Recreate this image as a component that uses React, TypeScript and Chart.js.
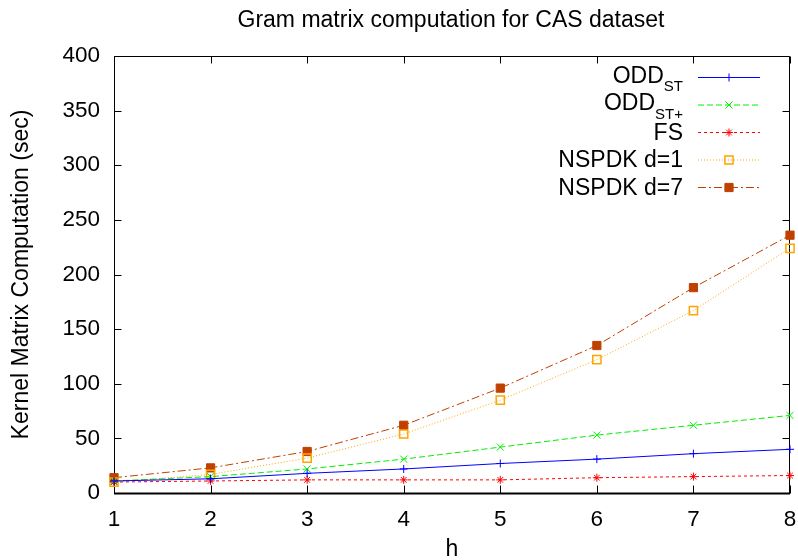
import React, { useEffect, useRef } from 'react';
import { Chart, registerables } from 'chart.js';

Chart.register(...registerables);

// ---- data ----
const hLabels = ['1', '2', '3', '4', '5', '6', '7', '8'];
const oddST = [11, 13, 18, 22, 27, 31, 36, 40];
const oddSTPlus = [11, 15, 22, 31, 42, 53, 62, 71];
const fsValues = [10, 11, 12, 12, 12, 14, 15, 16];
const nspdk1 = [10, 17, 32, 54, 85, 122, 167, 224];
const nspdk7 = [14, 23, 38, 62, 96, 135, 188, 236];
const yMin = 0;
const yMax = 400;
const yStep = 50;
const titleText = 'Gram matrix computation for CAS dataset';
const xTitle = 'h';
const yTitle = 'Kernel Matrix Computation (sec)';
const legendMain = ['ODD', 'ODD', 'FS', 'NSPDK d=1', 'NSPDK d=7'];
const legendSub = ['ST', 'ST+', '', '', ''];

const FONT = "'Liberation Sans', Arial, Helvetica, sans-serif";

function drawMarker(ctx: CanvasRenderingContext2D, style: string, x: number, y: number, r: number, stroke: string, fill: string, lw: number) {
  ctx.save();
  ctx.setLineDash([]);
  ctx.lineWidth = lw;
  ctx.strokeStyle = stroke;
  ctx.fillStyle = fill;
  ctx.beginPath();
  const d = r * Math.SQRT1_2;
  if (style === 'cross' || style === 'star') {
    ctx.moveTo(x - r, y); ctx.lineTo(x + r, y);
    ctx.moveTo(x, y - r); ctx.lineTo(x, y + r);
  }
  if (style === 'crossRot' || style === 'star') {
    ctx.moveTo(x - d, y - d); ctx.lineTo(x + d, y + d);
    ctx.moveTo(x - d, y + d); ctx.lineTo(x + d, y - d);
  }
  if (style === 'rect') {
    ctx.rect(x - d, y - d, 2 * d, 2 * d);
    ctx.fill();
  }
  ctx.stroke();
  ctx.restore();
}

const framePlugin = {
  id: 'gnuFrame',
  beforeDatasetsDraw(chart: any) {
    const { ctx, chartArea: a, scales } = chart;
    ctx.save();
    ctx.strokeStyle = '#000';
    ctx.lineWidth = 1;
    ctx.setLineDash([]);
    const L = Math.round(a.left) + 0.5;
    const R = Math.round(a.right) - 0.5;
    const T = Math.round(a.top) + 0.5;
    const B = Math.round(a.bottom) + 0.5;
    ctx.beginPath();
    ctx.moveTo(L, T); ctx.lineTo(R, T); ctx.lineTo(R, B);
    ctx.moveTo(L, B); ctx.lineTo(L, T);
    ctx.stroke();
    ctx.lineWidth = 2;
    ctx.beginPath();
    ctx.moveTo(L - 0.5, B); ctx.lineTo(R + 0.5, B);
    ctx.stroke();
    ctx.lineWidth = 1;
    ctx.beginPath();
    for (let v = yMin; v <= yMax; v += yStep) {
      const y = Math.round(scales.y.getPixelForValue(v)) + 0.5;
      ctx.moveTo(L, y); ctx.lineTo(L + 7, y);
      ctx.moveTo(R, y); ctx.lineTo(R - 7, y);
    }
    for (let i = 0; i < hLabels.length; i++) {
      const x = Math.round(scales.x.getPixelForValue(i)) + 0.5;
      ctx.moveTo(x, B); ctx.lineTo(x, B - 8);
      ctx.moveTo(x, T); ctx.lineTo(x, T + 7);
    }
    ctx.stroke();
    // title
    ctx.fillStyle = '#000';
    ctx.font = `23px ${FONT}`;
    ctx.textAlign = 'center';
    ctx.textBaseline = 'middle';
    ctx.fillText(titleText, 451, 21);
    ctx.restore();
  },
  afterDatasetsDraw(chart: any) {
    const { ctx } = chart;
    const textRight = 683;
    const x0 = 698;
    const x1 = 760;
    const xm = 729;
    const rowY = [77, 104.5, 132, 159.5, 187];
    ctx.save();
    chart.data.datasets.forEach((ds: any, i: number) => {
      const y = rowY[i];
      const main = legendMain[i];
      const sub = legendSub[i];
      ctx.fillStyle = '#000';
      ctx.textBaseline = 'alphabetic';
      ctx.textAlign = 'left';
      ctx.font = `23px ${FONT}`;
      const mw = ctx.measureText(main).width;
      ctx.font = `15px ${FONT}`;
      const sw = sub ? ctx.measureText(sub).width : 0;
      const start = textRight - mw - sw;
      const base = sub ? y + 5.5 : y + 7.5;
      ctx.font = `23px ${FONT}`;
      ctx.fillText(main, start, base);
      if (sub) {
        ctx.font = `15px ${FONT}`;
        ctx.fillText(sub, start + mw, base + 8.5);
      }
      ctx.strokeStyle = ds.borderColor;
      ctx.lineWidth = ds.borderWidth;
      ctx.setLineDash(ds.borderDash || []);
      ctx.beginPath();
      ctx.moveTo(x0, y + 0.5);
      ctx.lineTo(x1, y + 0.5);
      ctx.stroke();
      drawMarker(ctx, ds.pointStyle, xm, y + 0.5, ds.pointRadius, ds.pointBorderColor, ds.pointBackgroundColor, ds.pointBorderWidth);
    });
    ctx.restore();
  },
};

function makeDataset(data: number[], color: string, dash: number[], style: string, radius: number, fill: string, pbw: number) {
  return {
    data,
    borderColor: color,
    backgroundColor: color,
    borderWidth: 1,
    borderDash: dash,
    pointStyle: style,
    pointRadius: radius,
    pointBorderColor: color,
    pointBackgroundColor: fill,
    pointBorderWidth: pbw,
    tension: 0,
    fill: false,
    clip: false,
  };
}

export default function App() {
  const ref = useRef<HTMLCanvasElement>(null);
  useEffect(() => {
    if (!ref.current) return;
    const chart = new Chart(ref.current, {
      type: 'line',
      data: {
        labels: hLabels,
        datasets: [
          makeDataset(oddST, '#0000ff', [], 'cross', 4, '#0000ff', 1),
          makeDataset(oddSTPlus, '#00ee00', [6, 3], 'crossRot', 5, '#00ee00', 1),
          makeDataset(fsValues, '#ff0000', [3, 3], 'star', 4, '#ff0000', 1),
          makeDataset(nspdk1, '#ffa500', [1, 2], 'rect', 5.8, 'rgba(0,0,0,0)', 1.5),
          makeDataset(nspdk7, '#c04000', [8, 3, 2, 3], 'rect', 5.8, '#c04000', 1),
        ] as any,
      },
      options: {
        responsive: false,
        animation: false,
        layout: { padding: { left: 0, right: 8, top: 56, bottom: 0 } },
        plugins: { legend: { display: false }, tooltip: { enabled: false }, title: { display: false } },
        scales: {
          x: {
            type: 'category',
            offset: false,
            grid: { display: false, drawTicks: false },
            border: { display: false },
            ticks: { color: '#000', font: { family: FONT, size: 22.5 }, padding: 13, maxRotation: 0, autoSkip: false },
            title: { display: true, text: xTitle, color: '#000', font: { family: FONT, size: 23, lineHeight: 1 }, padding: { top: 0, bottom: -1 } },
            afterFit: (s: any) => { s.height = 67; s.paddingLeft = 0; s.paddingRight = 0; },
          },
          y: {
            min: yMin,
            max: yMax,
            grid: { display: false, drawTicks: false },
            border: { display: false },
            ticks: { stepSize: yStep, color: '#000', font: { family: FONT, size: 22.5 }, padding: 14 },
            title: { display: true, text: yTitle, color: '#000', font: { family: FONT, size: 23, lineHeight: 1 }, padding: { top: 10, bottom: 0 } },
            afterFit: (s: any) => { s.width = 114; },
          },
        },
      },
      plugins: [framePlugin],
    });
    return () => chart.destroy();
  }, []);
  return (
    <div style={{ position: 'absolute', left: 0, top: 0, width: 798, height: 560 }}>
      <canvas ref={ref} width={798} height={560} style={{ display: 'block' }} />
    </div>
  );
}
